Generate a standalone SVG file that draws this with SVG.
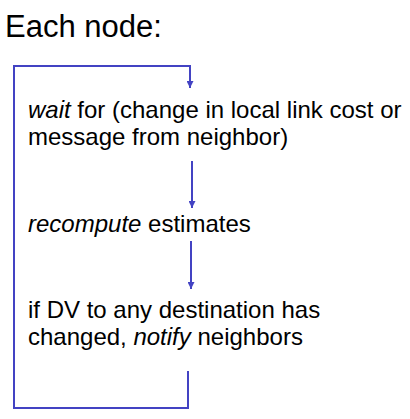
<svg xmlns="http://www.w3.org/2000/svg" width="410" height="419" viewBox="0 0 410 419">
<style>
.t{font-family:"Liberation Sans",Arial,sans-serif;font-size:24px;fill:#000}
.title{font-family:"Liberation Sans",Arial,sans-serif;font-size:31px;fill:#000}
.c{fill:none;stroke:#4343c3;stroke-width:2}
</style>
<defs>
<marker id="ah" viewBox="0 0 10 10" refX="10" refY="5" markerWidth="3.5" markerHeight="3.5" orient="auto" markerUnits="strokeWidth">
<path d="M0,0 L10,5 L0,10 z" fill="#4343c3"/>
</marker>
</defs>
<rect width="410" height="419" fill="#fff"/>
<text class="title" x="5" y="37">Each node:</text>
<g id="node-wait"><text class="t" x="28" y="118"><tspan font-style="italic">wait</tspan> for (change in local link cost or</text><text class="t" x="28" y="145">message from neighbor)</text></g>
<g id="node-recompute"><text class="t" x="28" y="232"><tspan font-style="italic">recompute</tspan> estimates</text></g>
<g id="node-notify"><text class="t" x="28" y="318">if DV to any destination has</text><text class="t" x="28" y="345">changed, <tspan font-style="italic">notify</tspan> neighbors</text></g>
<g id="connectors">
<path class="c" d="M188,371 V408 H14 V66 H190 V88" marker-end="url(#ah)"/>
<path class="c" d="M192,161 V208" marker-end="url(#ah)"/>
<path class="c" d="M191,241 V289" marker-end="url(#ah)"/>
</g>
</svg>
